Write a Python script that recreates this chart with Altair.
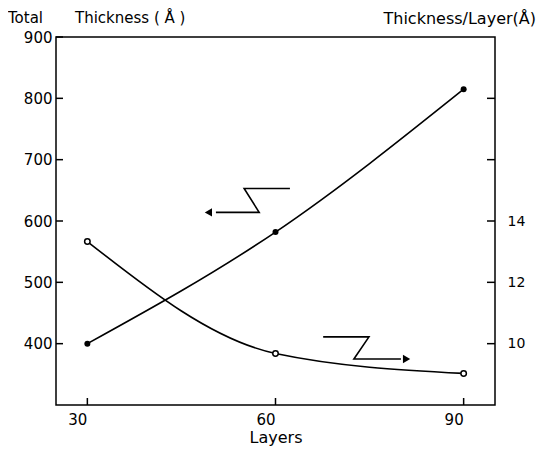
import altair as alt
import pandas as pd

# Data
layers = [30, 60, 90]
total_thickness = [400, 582, 815]          # Å, left axis
thickness_per_layer = [13.33, 9.68, 9.03]  # Å, right axis

left_ticks = [400, 500, 600, 700, 800, 900]
right_ticks = [10, 12, 14, 16, 18]
right_labels = [10, 12, 14]
x_ticks = [30, 60, 90]

# annotation arrows (data coordinates: layers, total thickness)
arrowL_x = [62.3, 55.0, 57.4, 50.5]
arrowL_y = [653, 653, 614, 614]
arrowL_head = (49.3, 614)
arrowR_x = [67.6, 74.9, 72.5, 80.0]
arrowR_y = [411, 411, 375, 375]
arrowR_head = (80.9, 375)

W, H = 439, 368
FONT = "DejaVu Sans"

xs = alt.Scale(domain=[25, 95], nice=False, zero=False)
ysL = alt.Scale(domain=[300, 900], nice=False, zero=False)
ysR = alt.Scale(domain=[8, 20], nice=False, zero=False)

xaxis = alt.Axis(values=x_ticks, ticks=False, domain=False, grid=False,
                 labelOffset=-10, labelPadding=7, labelFontSize=15, labelFont=FONT,
                 labelColor="black", title="Layers", titleFont=FONT,
                 titleFontSize=16, titleFontWeight="normal", titleColor="black",
                 titlePadding=2)

def X(field):
    return alt.X(field, scale=xs, axis=xaxis)

df = pd.DataFrame({"Layers": layers, "Total": total_thickness, "PerLayer": thickness_per_layer})

upper_line = alt.Chart(df).mark_line(interpolate="monotone", color="black", strokeWidth=1.6).encode(
    x=X("Layers:Q"),
    y=alt.Y("Total:Q", scale=ysL,
            axis=alt.Axis(values=left_ticks, ticks=False, domain=False, grid=False,
                          labelPadding=4, labelFontSize=15, labelFont=FONT,
                          labelColor="black", title=None)))
upper_pts = alt.Chart(df).mark_point(filled=True, color="black", size=36, opacity=1).encode(
    x=X("Layers:Q"), y=alt.Y("Total:Q", scale=ysL, axis=None))

lower_line = alt.Chart(df).mark_line(interpolate="monotone", color="black", strokeWidth=1.6).encode(
    x=X("Layers:Q"),
    y=alt.Y("PerLayer:Q", scale=ysR,
            axis=alt.Axis(orient="right", values=right_labels, ticks=False, domain=False,
                          grid=False, labelPadding=12, labelFontSize=14, labelFont=FONT,
                          labelColor="black", title=None)))
lower_pts = alt.Chart(df).mark_point(filled=True, fill="white", stroke="black", strokeWidth=1.5,
                                     size=30, opacity=1).encode(
    x=X("Layers:Q"), y=alt.Y("PerLayer:Q", scale=ysR, axis=None))

# inward tick marks
tl = alt.Chart(pd.DataFrame({"v": left_ticks})).mark_rule(color="black", strokeWidth=1.5).encode(
    y=alt.Y("v:Q", scale=ysL, axis=None), x=alt.value(0), x2=alt.value(7))
tr = alt.Chart(pd.DataFrame({"v": right_ticks})).mark_rule(color="black", strokeWidth=1.5).encode(
    y=alt.Y("v:Q", scale=ysR, axis=None), x=alt.value(W - 8), x2=alt.value(W))
tb = alt.Chart(pd.DataFrame({"v": x_ticks})).mark_rule(color="black", strokeWidth=1.5).encode(
    x=X("v:Q"), y=alt.value(H), y2=alt.value(H - 7))

# arrows
def arrow(xv, yv, head, shape):
    d = pd.DataFrame({"x": xv, "y": yv, "i": list(range(len(xv)))})
    ln = alt.Chart(d).mark_line(color="black", strokeWidth=1.6).encode(
        x=X("x:Q"), y=alt.Y("y:Q", scale=ysL, axis=None), order="i:O")
    hd = alt.Chart(pd.DataFrame({"x": [head[0]], "y": [head[1]]})).mark_point(
        shape=shape, filled=True, color="black", size=70, opacity=1).encode(
        x=X("x:Q"), y=alt.Y("y:Q", scale=ysL, axis=None))
    return [ln, hd]

arrows = arrow(arrowL_x, arrowL_y, arrowL_head, "triangle-left") + \
    arrow(arrowR_x, arrowR_y, arrowR_head, "triangle-right")

def label(txt, x, y, size, align="left"):
    return alt.Chart(pd.DataFrame({"t": [txt]})).mark_text(
        font=FONT, fontSize=size, color="black", align=align, baseline="alphabetic").encode(
        text="t:N", x=alt.value(x), y=alt.value(y))

titles = [
    label("Total", -48, -14, 15),
    label("Thickness ( Å )", 19, -14, 15),
    label("Thickness/Layer(Å)", 480, -13, 16, align="right"),
]

chart = alt.layer(upper_line, lower_line, upper_pts, lower_pts, tl, tr, tb, *arrows, *titles).resolve_scale(
    y="independent").properties(
    width=W, height=H,
    autosize=alt.AutoSizeParams(type="none"),
    padding={"left": 48, "top": 29, "right": 42, "bottom": 42},
    background="white",
).configure_view(stroke="black", strokeWidth=1.5)

chart.save("out.html", embed_options={"renderer": "svg", "actions": False})
